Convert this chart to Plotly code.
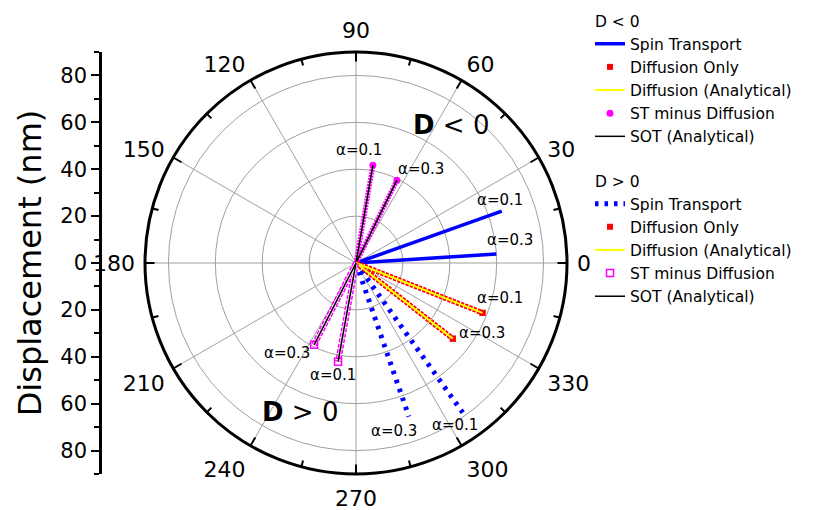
import plotly.graph_objects as go

# ---- data ----
alpha_labels = ["α=0.1", "α=0.3"]
st_neg_r = [66.0, 60.0]
st_neg_theta = [19.6, 3.7]
diff_r = [58.0, 52.4]
diff_theta = [338.5, 322.0]
sot_neg_r = [42.3, 39.4]
sot_neg_theta = [80.2, 63.7]
st_pos_r = [78.4, 69.3]
st_pos_theta = [305.5, 289.0]
sot_pos_r = [42.8, 39.2]
sot_pos_theta = [259.7, 242.9]

angle_ticks = list(range(0, 360, 30))
angle_ticktext = [str(a) for a in angle_ticks]
angle_minor = list(range(15, 360, 30))
radial_ticks = [20, 40, 60, 80]
disp_ticks = [-80, -60, -40, -20, 0, 20, 40, 60, 80]
disp_ticktext = [str(abs(v)) for v in disp_ticks]
disp_minor = [-90, -70, -50, -30, -10, 10, 30, 50, 70, 90]

W, H = 814, 510
FONT = "DejaVu Sans, Arial, sans-serif"


def rays(rs, ths):
    r, t = [], []
    for rv, tv in zip(rs, ths):
        r += [0, rv, None]
        t += [tv, tv, None]
    return r, t


fig = go.Figure()


def add_line(rs, ths, color, width, dash="solid", name=None, group=None,
             gtitle=None, show=False):
    r, t = rays(rs, ths)
    fig.add_trace(go.Scatterpolar(
        r=r, theta=t, mode="lines",
        line=dict(color=color, width=width, dash=dash),
        name=name or "", legendgroup=group, showlegend=show,
        legendgrouptitle_text=gtitle, hoverinfo="skip"))


def add_markers(rs, ths, color, symbol, size, name, group, show=True, lw=0):
    fig.add_trace(go.Scatterpolar(
        r=rs, theta=ths, mode="markers",
        marker=dict(color=color, symbol=symbol, size=size,
                    line=dict(color=color, width=lw)),
        name=name, legendgroup=group, showlegend=show, hoverinfo="skip"))


# ---- D < 0 group ----
add_line(st_neg_r, st_neg_theta, "#0000ff", 3.5, name="Spin Transport",
         group="neg", gtitle="D < 0", show=True)
add_line(diff_r, diff_theta, "#ff0000", 5, dash="3px,1.5px", group="neg")
add_markers(diff_r, diff_theta, "#ff0000", "square", 6, "Diffusion Only", "neg")
add_line(diff_r, diff_theta, "#ffff00", 2, name="Diffusion (Analytical)",
         group="neg", show=True)
add_line(sot_neg_r, sot_neg_theta, "#ff00ff", 5, dash="2px,1px", group="neg")
add_markers(sot_neg_r, sot_neg_theta, "#ff00ff", "circle", 7,
            "ST minus Diffusion", "neg")
add_line(sot_neg_r, sot_neg_theta, "#000000", 1.5, name="SOT (Analytical)",
         group="neg", show=True)

# ---- D > 0 group ----
add_line(st_pos_r, st_pos_theta, "#0000ff", 5, dash="3.5px,6px",
         name="Spin Transport", group="pos", gtitle="D > 0", show=True)
add_line(diff_r, diff_theta, "#ff0000", 5, dash="3px,1.5px", group="pos")
add_markers(diff_r, diff_theta, "#ff0000", "square", 6, "Diffusion Only", "pos")
add_line(diff_r, diff_theta, "#ffff00", 2, name="Diffusion (Analytical)",
         group="pos", show=True)
add_line(sot_pos_r, sot_pos_theta, "#ff00ff", 6, dash="4px,1.5px", group="pos")
add_line(sot_pos_r, sot_pos_theta, "#ffffff", 3, dash="4px,1.5px", group="pos")
add_markers(sot_pos_r, sot_pos_theta, "#ff00ff", "square-open", 7,
            "ST minus Diffusion", "pos", lw=1.5)
add_line(sot_pos_r, sot_pos_theta, "#000000", 1.5, name="SOT (Analytical)",
         group="pos", show=True)

# tick overlay subplots (major inward ticks, minor inward ticks)
for sp in ("polar2", "polar3"):
    fig.add_trace(go.Scatterpolar(r=[None], theta=[None], subplot=sp,
                                  showlegend=False, hoverinfo="skip"))
# left displacement axis
fig.add_trace(go.Scatter(x=[None], y=[None], xaxis="x", yaxis="y",
                         showlegend=False, hoverinfo="skip"))

cx, cy, R = 356, 263, 211
dom_x = [(cx - R) / W, (cx + R) / W]
dom_y = [1 - (cy + R) / H, 1 - (cy - R) / H]

overlay_common = dict(rotation=0, direction="counterclockwise",
                      ticks="inside", tickwidth=2, tickcolor="black",
                      showticklabels=False, showgrid=False, showline=False)

fig.update_layout(
    width=W, height=H,
    margin=dict(l=0, r=0, t=0, b=0, autoexpand=False),
    paper_bgcolor="white", plot_bgcolor="rgba(0,0,0,0)",
    font=dict(family=FONT, color="black"),
    polar=dict(
        domain=dict(x=dom_x, y=dom_y),
        bgcolor="white",
        radialaxis=dict(range=[0, 90], tickvals=radial_ticks,
                        showticklabels=False, ticks="", showline=False,
                        gridcolor="#a0a0a0", gridwidth=1),
        angularaxis=dict(rotation=0, direction="counterclockwise",
                         tickmode="array", tickvals=angle_ticks,
                         ticktext=angle_ticktext,
                         ticks="outside", ticklen=4,
                         tickcolor="rgba(0,0,0,0)",
                         showline=True, linecolor="black",
                         linewidth=3, gridcolor="#a0a0a0", gridwidth=1,
                         tickfont=dict(size=22, family=FONT)),
    ),
    polar2=dict(
        domain=dict(x=dom_x, y=dom_y),
        bgcolor="rgba(0,0,0,0)",
        radialaxis=dict(visible=False, range=[0, 90]),
        angularaxis=dict(tickvals=angle_ticks, ticklen=9, **overlay_common),
    ),
    polar3=dict(
        domain=dict(x=dom_x, y=dom_y),
        bgcolor="rgba(0,0,0,0)",
        radialaxis=dict(visible=False, range=[0, 90]),
        angularaxis=dict(tickvals=angle_minor, ticklen=6, **overlay_common),
    ),
    xaxis=dict(visible=False, domain=[0, 0.05], anchor="y"),
    yaxis=dict(domain=dom_y, range=[-90, 90], anchor="free",
               position=100 / W, side="left",
               tickvals=disp_ticks, ticktext=disp_ticktext,
               ticks="outside", ticklen=8, tickwidth=2, tickcolor="black",
               showline=True, linecolor="black", linewidth=2.5,
               showgrid=False, zeroline=False,
               tickfont=dict(size=21, family=FONT),
               minor=dict(tickvals=disp_minor, ticks="outside", ticklen=5,
                          tickwidth=2, tickcolor="black", showgrid=False),
               title=dict(text="Displacement (nm)",
                          font=dict(size=32, family=FONT), standoff=8)),
    legend=dict(x=590 / W, y=1 - 4 / H, xanchor="left", yanchor="top",
                font=dict(size=15.5, family=FONT), bgcolor="rgba(0,0,0,0)",
                traceorder="grouped", tracegroupgap=21,
                grouptitlefont=dict(size=15.5, family=FONT)),
    showlegend=True,
)

annotations = [
    dict(x=359, y=150, text=alpha_labels[0]),
    dict(x=421, y=169, text=alpha_labels[1]),
    dict(x=500, y=200, text=alpha_labels[0]),
    dict(x=510, y=240, text=alpha_labels[1]),
    dict(x=500, y=298, text=alpha_labels[0]),
    dict(x=482, y=333, text=alpha_labels[1]),
    dict(x=394, y=431, text=alpha_labels[1]),
    dict(x=455, y=425, text=alpha_labels[0]),
    dict(x=287, y=353, text=alpha_labels[1]),
    dict(x=333, y=375, text=alpha_labels[0]),
]
for a in annotations:
    fig.add_annotation(x=a["x"] / W, y=1 - a["y"] / H, xref="paper",
                       yref="paper", text=a["text"], showarrow=False,
                       xanchor="center", yanchor="middle",
                       font=dict(size=15, family=FONT))
fig.add_annotation(x=451 / W, y=1 - 125 / H, xref="paper", yref="paper",
                   text="<b>D</b> &lt; 0", showarrow=False,
                   xanchor="center", yanchor="middle",
                   font=dict(size=26, family=FONT))
fig.add_annotation(x=300 / W, y=1 - 412 / H, xref="paper", yref="paper",
                   text="<b>D</b> &gt; 0", showarrow=False,
                   xanchor="center", yanchor="middle",
                   font=dict(size=26, family=FONT))

fig.write_html("out.html", config={"displayModeBar": False},
               post_script="document.body.style.margin='0px';")
